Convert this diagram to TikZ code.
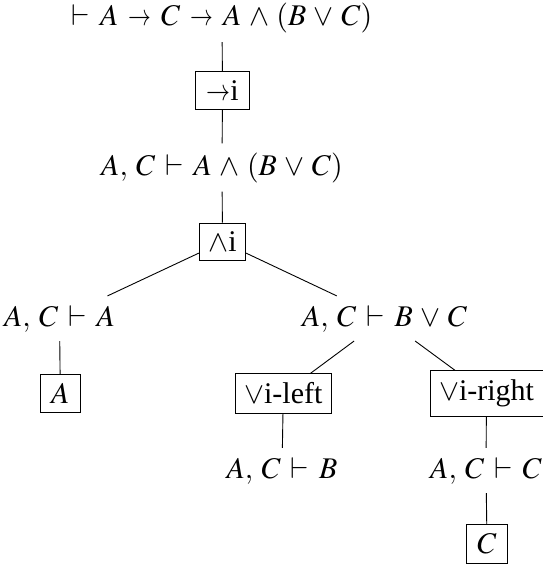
\documentclass[tikz,border=0pt]{standalone}
\usepackage{graphicx}
\usepackage{mathptmx}
\usepackage[no-math]{fontspec}
\setmainfont{Liberation Serif}
\thinmuskip=5mu
\medmuskip=4.5mu plus 2mu minus 4mu
\thickmuskip=6mu plus 5mu
\newcommand\narrowto{\mathrel{\scalebox{0.76}[1]{$\rightarrow$}}}
\begin{document}
\begin{tikzpicture}[x=1bp,y=-1bp,
  every node/.style={font=\fontsize{30bp}{36bp}\selectfont},
  seq/.style={inner sep=9bp},
  rulebox/.style={draw,line width=0.9bp,inner sep=9bp},
  conn/.style={line width=0.9bp}]
\useasboundingbox (0,0) rectangle (543,565);
\node[seq,anchor=base] (root) at (222,25.5) {$\vdash A \narrowto C \narrowto A \wedge (B \vee C)$};
\node[rulebox,inner xsep=11bp] (arr) at (222.5,90.5) {$\scalebox{0.8}[1]{$\rightarrow$}$i};
\node[seq,anchor=base] (s2) at (222,175) {$A, C \vdash A \wedge (B \vee C)$};
\node[rulebox] (and) at (222.5,242) {$\wedge$i};
\node[seq,anchor=base] (la) at (59.5,326) {$A, C \vdash A$};
\node[rulebox,inner xsep=10.5bp] (ba) at (60.3,393.3) {$A$};
\node[seq,anchor=base] (ra) at (384.5,326) {$A, C \vdash B \vee C$};
\node[rulebox] (vl) at (283.3,393.5) {$\vee$i-left};
\node[rulebox] (vr) at (486.5,393.5) {$\vee$i-right};
\node[seq,anchor=base] (lb) at (282,478) {$A, C \vdash B$};
\node[seq,anchor=base] (rc) at (486,478) {$A, C \vdash C$};
\node[rulebox,inner xsep=10.5bp] (bc) at (487,543.8) {$C$};
\draw[conn] (root) -- (arr);
\draw[conn] (arr) -- (s2);
\draw[conn] (s2) -- (and);
\draw[conn] (and) -- (la);
\draw[conn] (and) -- (ra);
\draw[conn] (la) -- (ba);
\draw[conn] (ra) -- (vl);
\draw[conn] (ra) -- (vr);
\draw[conn] (vl) -- (lb);
\draw[conn] (vr) -- (rc);
\draw[conn] (rc) -- (bc);
\end{tikzpicture}
\end{document}
